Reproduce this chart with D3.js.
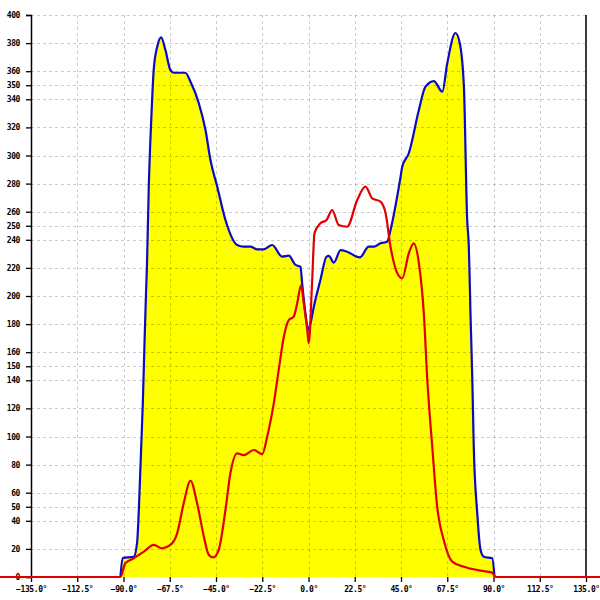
<!DOCTYPE html>
<html><head><meta charset="utf-8">
<script src="https://cdn.jsdelivr.net/npm/d3@7"></script>
<style>body{margin:0;background:#fff}svg{display:block}</style>
</head><body>
<script>
const xTicks = [-135, -112.5, -90, -67.5, -45, -22.5, 0, 22.5, 45, 67.5, 90, 112.5, 135];
const yTicks = [0,20,40,50,60,80,100,120,140,150,160,180,200,220,240,250,260,280,300,320,340,350,360,380,400];

const blueAngles = [-180,-91.5,-90.4,-85.0,-83.4,-81.8,-80.6,-79.7,-79.0,-78.6,-77.7,-76.5,-75.3,-73.6,-71.7,-69.6,-67.2,-65.5,-59.9,-57.4,-53.4,-50.1,-47.7,-44.4,-40.4,-34.7,-31.5,-28.2,-25.0,-21.8,-17.7,-12.8,-9.6,-6.3,-3.9,-3.1,-1.5,-0.2,1.0,2.6,5.8,8.8,9.9,12.3,15.6,18.8,25.0,29.3,31.8,35.0,38.3,39.9,44.8,45.6,48.8,53.7,56.9,61.0,65.1,67.5,71.5,73.6,75.6,77.2,78.0,78.8,79.7,80.4,82.1,83.7,85.3,89.4,90.5,180];
const blueValues = [0,0,13.5,14.4,24.2,76.2,123.8,170.8,204,220.9,277.8,325.3,360.9,377.4,384.1,375.1,360.9,358.9,358.9,352.5,337.4,318.1,296.8,277.8,254.1,236.3,235.1,235.1,233.2,233.2,236.3,228,228.7,222.1,220.9,209,187.7,175.8,180.6,192.4,211.4,228,228.5,223.7,232.7,231.5,227.5,235.1,235.1,237.5,238.6,247,284.9,292,301.6,332.4,349,353,345.4,365.6,387.2,379.9,349,254.1,235.1,187.7,140.2,92.7,45.3,19.2,14.4,13.3,0,0];

const redAngles = [-180,-91.5,-89.1,-85.0,-80.1,-75.3,-71.2,-67.2,-63.9,-60.7,-57.4,-54.2,-50.9,-48.5,-46.4,-43.7,-40.4,-38.0,-34.7,-31.5,-26.6,-22.5,-20.1,-16.9,-14.5,-12.0,-9.6,-7.2,-5.5,-3.6,-2.3,-0.6,0.1,1.8,2.9,5.8,8.8,11.5,14.7,18.8,23.7,27.7,31.0,35.0,37.5,39.9,43.2,45.6,48.8,51.2,53.7,56.1,57.8,60.2,62.6,65.8,69.9,75.6,83.7,89.4,91.0,180];
const redValues = [0,0,9.8,13.3,18.0,22.8,20.4,22.8,31.1,52.5,68.5,52.5,28.7,15.7,14.0,19.2,47.7,73.8,88.0,86.8,90.4,87.5,99.9,123.6,147.3,171.0,182.9,185.3,194.8,207.8,194.8,175.8,166.3,211.4,244.6,251.7,254.1,261.2,250.5,249.3,268.3,277.8,269.5,267.1,258.9,235.1,216.2,212.6,230.4,237.5,223.3,187.7,140.2,92.7,50.0,26.3,10.9,7.3,4.5,3.1,0,0];

const W = 600, H = 600;
const svg = d3.select("body").append("svg").attr("width", W).attr("height", H);
const x = d3.scaleLinear().domain([-135, 135]).range([31, 586]);
const y = d3.scaleLinear().domain([0, 400]).range([577, 15]);

const blue = blueAngles.map((a, i) => [a, blueValues[i]]);
const red = redAngles.map((a, i) => [a, redValues[i]]);

// fill
svg.append("path").datum(blue.filter(d => d[0] > -100 && d[0] < 100))
  .attr("fill", "#ffff00")
  .attr("d", d3.area().x(d => x(d[0])).y0(y(0)).y1(d => y(d[1])).curve(d3.curveMonotoneX));

// grid
const grid = svg.append("g").attr("stroke", "#000").attr("stroke-opacity", 0.2).attr("stroke-dasharray", "3,3").attr("shape-rendering", "crispEdges");
grid.selectAll("line.v").data(xTicks).join("line")
  .attr("x1", d => Math.round(x(d)) + 0.5).attr("x2", d => Math.round(x(d)) + 0.5)
  .attr("y1", y(400)).attr("y2", y(0));
grid.selectAll("line.h").data(yTicks.filter(d => d > 0)).join("line")
  .attr("x1", x(-135)).attr("x2", x(135))
  .attr("y1", d => Math.round(y(d)) + 0.5).attr("y2", d => Math.round(y(d)) + 0.5);

// blue line
svg.append("path").datum(blue.filter(d => d[0] > -100 && d[0] < 100))
  .attr("fill", "none").attr("stroke", "#0a0ac8").attr("stroke-width", 2.2)
  .attr("d", d3.line().x(d => x(d[0])).y(d => y(d[1])).curve(d3.curveMonotoneX));

// axes
const font = "'DejaVu Sans Mono', monospace";
const yAxis = svg.append("g").attr("transform", `translate(${x(-135)},0)`)
  .call(d3.axisLeft(y).tickValues(yTicks).tickFormat(d3.format("d")).tickSize(5).tickPadding(6));
const xAxis = svg.append("g").attr("transform", `translate(0,${y(0)})`)
  .call(d3.axisBottom(x).tickValues(xTicks).tickFormat(d => d3.format(".1f")(d) + "°").tickSize(5).tickPadding(4));
[yAxis, xAxis].forEach(a => {
  a.select(".domain").attr("stroke", "#000").attr("stroke-width", 1.5);
  a.selectAll(".tick line").attr("stroke", "#000").attr("stroke-width", 1.3);
  a.selectAll("text").attr("fill", "#000").attr("font-family", font).attr("font-size", 8).attr("font-weight", "bold").attr("letter-spacing", "-0.4px");
});
xAxis.select(".domain").remove();
svg.append("line").attr("x1", x(135)).attr("x2", x(135)).attr("y1", y(400)).attr("y2", y(0))
  .attr("stroke", "#000").attr("stroke-width", 1.5);

// red line
svg.append("path").datum(red)
  .attr("fill", "none").attr("stroke", "#e00000").attr("stroke-width", 2.2)
  .attr("d", d3.line().x(d => x(d[0])).y(d => y(d[1])).curve(d3.curveMonotoneX));
</script>
</body></html>
